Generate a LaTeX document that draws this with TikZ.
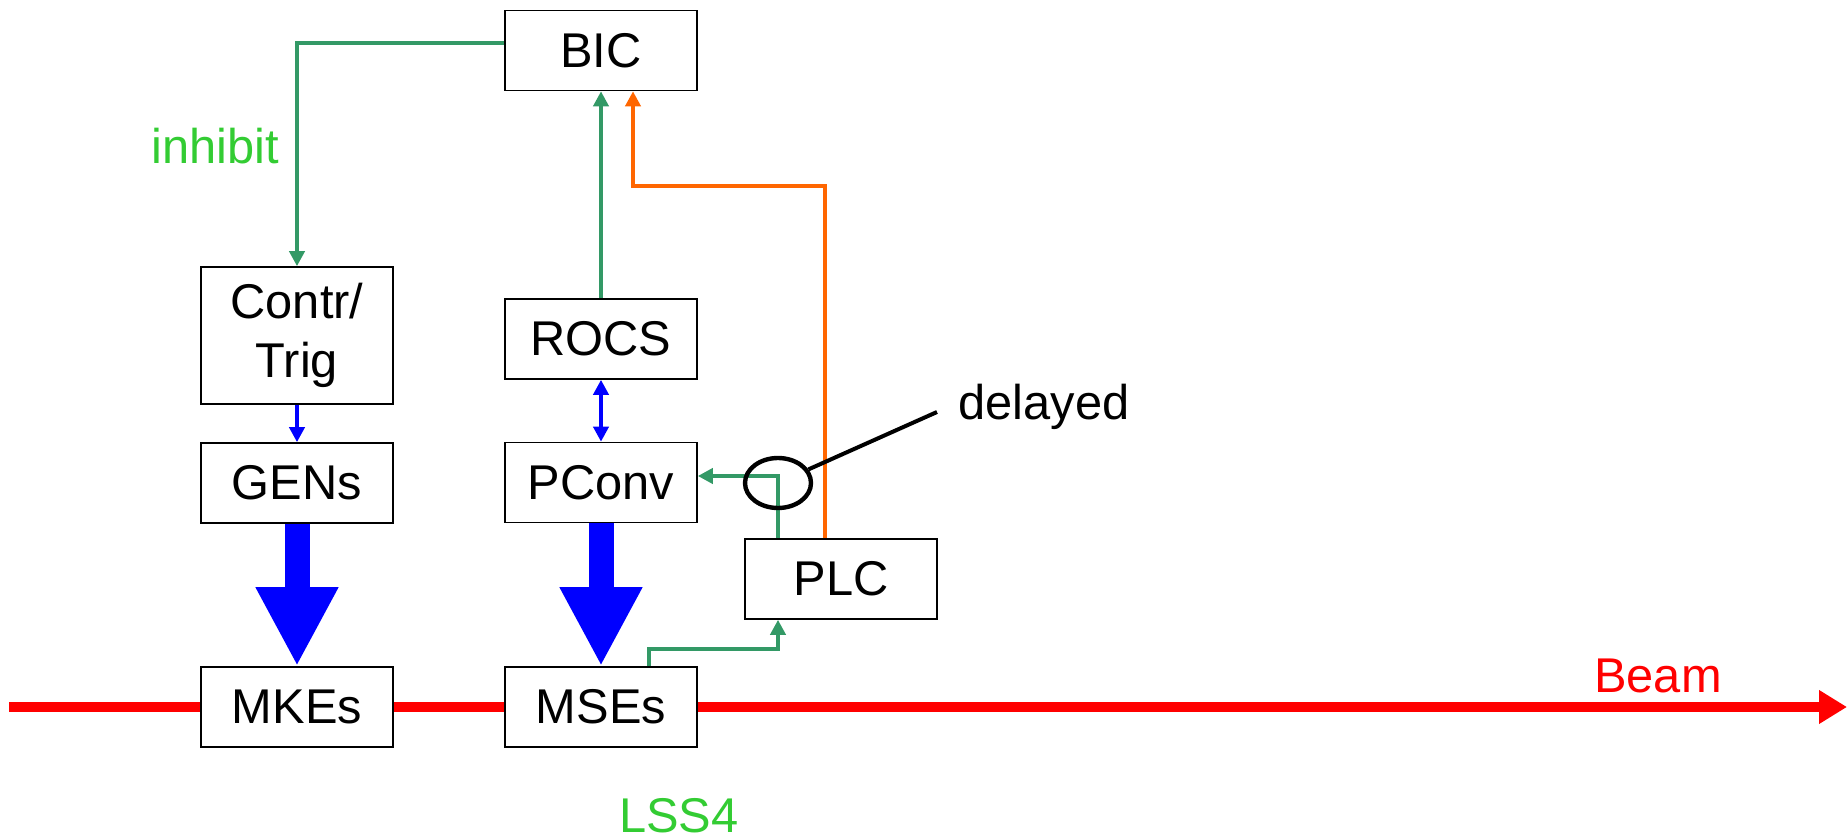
\documentclass[tikz,border=0pt]{standalone}
\usepackage{fontspec}
\setmainfont{Liberation Sans}
\usetikzlibrary{arrows.meta,calc,shapes.geometric}
\definecolor{sigline}{HTML}{339966}
\definecolor{labgreen}{HTML}{33CC33}
\definecolor{orangeline}{HTML}{FF6600}
\begin{document}
\begin{tikzpicture}[x=0.5pt,y=-0.5pt,
  every node/.style={font=\fontsize{24.4}{29.3}\selectfont},
  box/.style={draw=black,line width=0.8pt,fill=white,minimum width=96pt,minimum height=40pt,inner sep=0pt,align=center},
  sig/.style={draw=sigline,line width=2pt,-{Triangle[width=7.5pt,length=7.5pt]}},
  orangesig/.style={draw=orangeline,line width=2pt,-{Triangle[width=7.5pt,length=7.5pt]}},
  ctrl/.style={draw=blue,line width=2pt,-{Triangle[width=7.5pt,length=7.5pt]}},
  ctrlboth/.style={draw=blue,line width=2pt,{Triangle[width=7.5pt,length=7.5pt]}-{Triangle[width=7.5pt,length=7.5pt]}},
  power/.style={draw=blue,line width=12.5pt,-{Triangle[width=38.5pt,length=39.5pt]}},
  beamline/.style={draw=red,line width=5pt},
]
\useasboundingbox (0,0) rectangle (1848,839);

% beam end points
\coordinate (beamstart) at (9,707);
\coordinate (beamend) at (1847,707);

% boxes
\node[box] (bic)   at (601,50.5)  {BIC};
\node[box,minimum height=68.5pt] (contr) at (297,335.5) {Contr/\\Trig};
\node[box] (gens)  at (297,483)   {GENs};
\node[box] (mkes)  at (297,707)   {MKEs};
\node[box] (rocs)  at (601,339)   {ROCS};
\node[box] (pconv) at (601,482.5) {PConv};
\node[box] (mses)  at (601,707)   {MSEs};
\node[box] (plc)   at (841,579)   {PLC};

% beam
\draw[beamline] (beamstart) -- (mkes.west);
\draw[beamline] (mkes.east) -- (mses.west);
\draw[beamline,-{Triangle[width=16pt,length=14pt]}] (mses.east) -- (beamend);

% interlock signals
\draw[sig] ($(bic.west)+(0,-7.5)$) -| (contr.north);
\draw[sig] (rocs.north) -- (bic.south);
\draw[orangesig] ($(plc.north)+(-16,0)$) -- ++(0,-352) -| ($(bic.south)+(32,0)$);
\draw[sig] ($(mses.north)+(48,0)$) -- ++(0,-17) -| ($(plc.south)+(-63,0)$);
\draw[sig] ($(plc.north)+(-63,0)$) |- ($(pconv.east)+(0,-6.5)$);

% control and power
\draw[ctrl] (contr.south) -- (gens.north);
\draw[ctrlboth] (rocs.south) -- (pconv.north);
\draw[power] (gens.south) -- (mkes.north);
\draw[power] (pconv.south) -- (mses.north);

% delayed marker
\node[ellipse,draw=black,line width=2.2pt,minimum width=33pt,minimum height=25pt,inner sep=0pt] (dl) at (778,483) {};
\coordinate (dltip) at (937,412);
\draw[black,line width=2pt] (dl) -- (dltip);
\node[anchor=base west,inner sep=0pt] (delayed) at (958,420) {delayed};

% labels
\node[anchor=base,inner sep=0pt,text=labgreen] (inhibit) at (215,164) {inhibit};
\node[anchor=base,inner sep=0pt,text=labgreen] (lss) at (679,832) {LSS4};
\node[anchor=base,inner sep=0pt,text=red] (beam) at (1658,692) {Beam};
\end{tikzpicture}
\end{document}
